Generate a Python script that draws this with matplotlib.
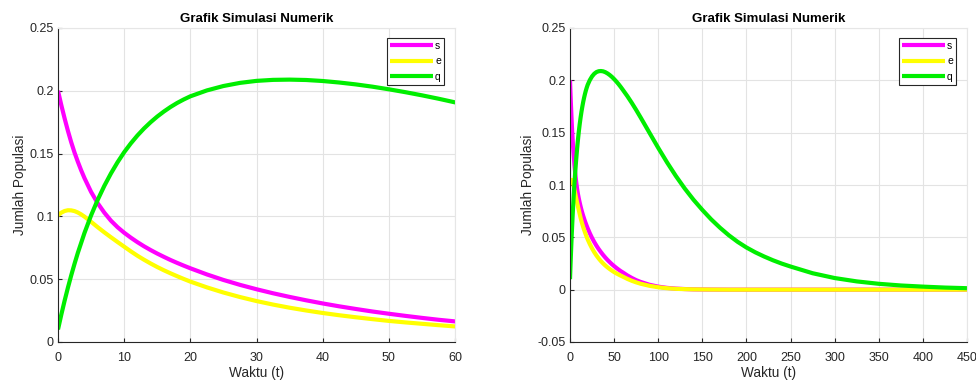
import matplotlib.pyplot as plt

plt.rcParams['font.family'] = ['Liberation Sans', 'DejaVu Sans']

# simulation output
t = [0, 0.5, 1, 1.5, 2, 2.5, 3, 3.5, 4,
     5, 6, 7, 8, 9, 10, 11, 12, 13, 14, 15, 16, 17, 18, 19, 20,
     22.5, 25, 27.5, 30, 32.5, 35, 37.5, 40, 42.5, 45, 47.5, 50, 52.5, 55,
     57.5, 60,
     65, 70, 75, 80,
     90, 100, 110, 120, 130, 140, 150, 160, 170, 180, 190, 200, 210, 220,
     230, 240, 250,
     275, 300, 325, 350, 375, 400, 425, 450]
s = [0.2000, 0.1886, 0.1780, 0.1681, 0.1590, 0.1508, 0.1435, 0.1367, 0.1305,
     0.1195, 0.1105, 0.1030, 0.0966, 0.0914, 0.0870, 0.0831, 0.0795, 0.0762,
     0.0732, 0.0704, 0.0678, 0.0653, 0.0630, 0.0608, 0.0587,
     0.0538, 0.0494, 0.0455, 0.0420, 0.0388, 0.0359, 0.0332, 0.0307, 0.0284,
     0.0263, 0.0243, 0.0225, 0.0208, 0.0192, 0.0177, 0.0164,
     0.0136, 0.0112, 0.0091, 0.0074,
     0.0047, 0.0029, 0.0017, 0.0010, 0.0006, 0.0003, 0.0002, 0.0001, 0.00005,
     0, 0, 0, 0, 0, 0, 0, 0,
     0, 0, 0, 0, 0, 0, 0, 0]
e = [0.1010, 0.1030, 0.1043, 0.1049, 0.1048, 0.1042, 0.1031, 0.1016, 0.0998,
     0.0957, 0.0914, 0.0873, 0.0834, 0.0796, 0.0759, 0.0722, 0.0687, 0.0655,
     0.0625, 0.0597, 0.0571, 0.0547, 0.0524, 0.0502, 0.0481,
     0.0435, 0.0394, 0.0358, 0.0326, 0.0298, 0.0273, 0.0251, 0.0231, 0.0213,
     0.0197, 0.0182, 0.0168, 0.0156, 0.0145, 0.0134, 0.0124,
     0.0103, 0.0085, 0.0070, 0.0057,
     0.0037, 0.0023, 0.0014, 0.0008, 0.0005, 0.0003, 0.0002, 0.0001, 0.00005,
     0, 0, 0, 0, 0, 0, 0, 0,
     0, 0, 0, 0, 0, 0, 0, 0]
q = [0.0100, 0.0218, 0.0329, 0.0433, 0.0531, 0.0623, 0.0710, 0.0789, 0.0868,
     0.1008, 0.1132, 0.1243, 0.1342, 0.1431, 0.1511, 0.1581, 0.1644, 0.1700,
     0.1750, 0.1795, 0.1835, 0.1871, 0.1903, 0.1931, 0.1956,
     0.2003, 0.2038, 0.2063, 0.2079, 0.2087, 0.2089, 0.2086, 0.2078, 0.2066,
     0.2051, 0.2033, 0.2012, 0.1989, 0.1964, 0.1937, 0.1908,
     0.1849, 0.1785, 0.1717, 0.1646,
     0.1500, 0.1355, 0.1216, 0.1086, 0.0967, 0.0859, 0.0762, 0.0672, 0.0592,
     0.0520, 0.0457, 0.0403, 0.0357, 0.0317, 0.0281, 0.0249, 0.0221,
     0.0157, 0.0111, 0.0079, 0.0056, 0.0040, 0.0029, 0.0020, 0.0014]

labels = ['s', 'e', 'q']
colors = ['#ff00ff', '#ffff00', '#00ee00']

fig = plt.figure(figsize=(9.76, 3.83), dpi=100)
ax1 = fig.add_axes([58/976, 1-342/383, 397/976, 314/383])
ax2 = fig.add_axes([570/976, 1-342/383, 397/976, 314/383])

panels = [
    (ax1, (0, 60), list(range(0, 61, 10)), (0, 0.25),
     [0, 0.05, 0.1, 0.15, 0.2, 0.25], ['0', '0.05', '0.1', '0.15', '0.2', '0.25']),
    (ax2, (0, 450), list(range(0, 451, 50)), (-0.05, 0.25),
     [-0.05, 0, 0.05, 0.1, 0.15, 0.2, 0.25],
     ['-0.05', '0', '0.05', '0.1', '0.15', '0.2', '0.25']),
]

for ax, xl, xt, yl, yt, ytl in panels:
    for ys, lab, c in zip([s, e, q], labels, colors):
        ax.plot(t, ys, color=c, lw=3, label=lab, solid_capstyle='butt',
                solid_joinstyle='round')
    ax.set_xlim(xl)
    ax.set_ylim(yl)
    ax.set_xticks(xt)
    ax.set_xticklabels([str(v) for v in xt])
    ax.set_yticks(yt)
    ax.set_yticklabels(ytl)
    ax.grid(True, color='#e3e3e3', lw=0.8)
    ax.set_axisbelow(True)
    for side in ['top', 'right']:
        ax.spines[side].set_color('#e6e6e6')
    for side in ['left', 'bottom']:
        ax.spines[side].set_color('#262626')
    ax.tick_params(direction='in', length=3, labelsize=9, colors='#262626',
                   pad=3)
    ax.tick_params(axis='x', pad=7)
    ax.set_title('Grafik Simulasi Numerik', fontsize=9.5, fontweight='bold',
                 pad=4)
    ax.set_xlabel('Waktu (t)', fontsize=9.8, color='#262626', labelpad=2)
    ax.set_ylabel('Jumlah Populasi', fontsize=9.8, color='#262626', labelpad=2)
    leg = ax.legend(loc='upper right', bbox_to_anchor=(1 - 11/397, 1 - 10/314),
                    borderaxespad=0, fancybox=False, fontsize=7.5,
                    handlelength=4.1, handletextpad=0.2, labelspacing=0.5,
                    borderpad=0.3, framealpha=1)
    leg.get_frame().set_edgecolor('#262626')
    leg.get_frame().set_linewidth(0.8)

fig.savefig('out.png', dpi=100)
